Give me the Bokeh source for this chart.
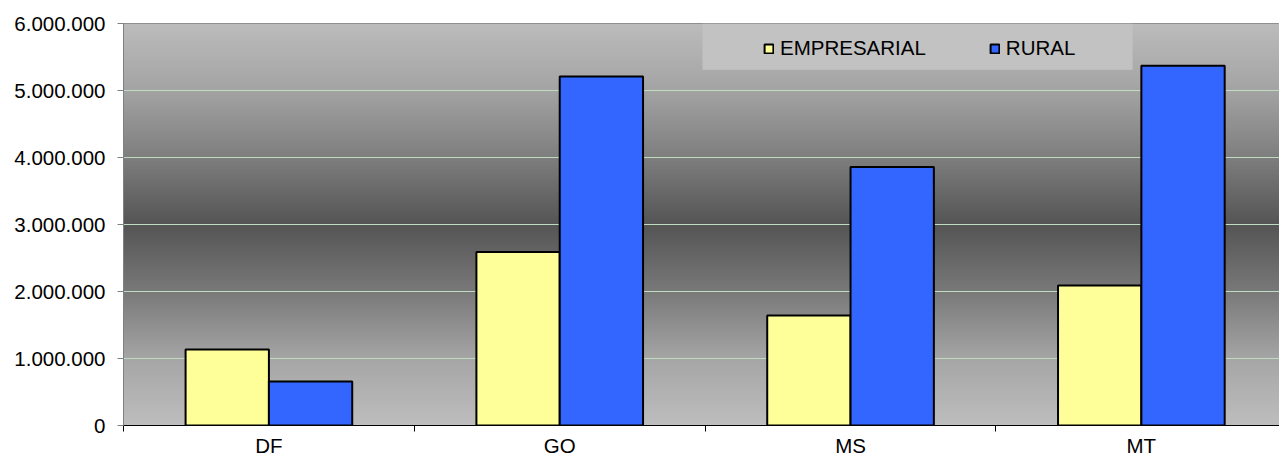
import numpy as np
from bokeh.plotting import figure
from bokeh.models import (Range1d, FixedTicker, CustomJSTickFormatter,
                          ColumnDataSource, BoxAnnotation)
from bokeh.transform import dodge
from bokeh.embed import file_html
from bokeh.resources import INLINE

# ---- data ----
categories = ["DF", "GO", "MS", "MT"]
empresarial = [1135000, 2590000, 1640000, 2090000]
rural = [655000, 5210000, 3860000, 5370000]
series_names = ["EMPRESARIAL", "RURAL"]
y_ticks = [0, 1000000, 2000000, 3000000, 4000000, 5000000, 6000000]

FONT = "Liberation Sans"
FS = "20.5px"
X_END = 3.975   # visible part of the 4-category axis (chart is cut at the right edge)
Y_MAX = 6000000

p = figure(width=1279, height=459, x_range=Range1d(0, X_END), y_range=Range1d(0, Y_MAX),
           output_backend="svg", toolbar_location=None,
           min_border_left=123, min_border_right=0, min_border_top=23, min_border_bottom=33)
p.border_fill_color = "white"
p.background_fill_color = "#c0c0c0"
p.outline_line_color = "#808080"
p.outline_line_width = 1

# ---- gradient background (silver -> dark gray -> silver) ----
N = 400
t = np.linspace(0, 1, N)
gray = np.interp(t, [0, 1/6, 1/3, 0.5, 2/3, 5/6, 1], [190, 166, 121, 85, 126, 164, 188]).astype(np.uint8)
img = np.empty((N, 1), dtype=np.uint32)
view = img.view(dtype=np.uint8).reshape((N, 1, 4))
view[:, 0, 0] = gray
view[:, 0, 1] = gray
view[:, 0, 2] = gray
view[:, 0, 3] = 255
p.image_rgba(image=[img], x=0, y=0, dw=X_END, dh=Y_MAX, level="image")

# ---- grid ----
p.xgrid.grid_line_color = None
p.ygrid.ticker = FixedTicker(ticks=y_ticks)
p.ygrid.grid_line_color = "#C0DCC0"
p.ygrid.grid_line_width = 1

# ---- legend background box ----
p.add_layout(BoxAnnotation(left=1.991, right=3.47, bottom=5310000, top=Y_MAX,
                           fill_color="#C2C2C2", fill_alpha=1.0, line_color=None,
                           level="underlay"))

# ---- bars ----
centers = list(np.arange(len(categories)) + 0.5)
src = ColumnDataSource(dict(x=centers, cat=categories, emp=empresarial, rur=rural))
BW = 0.2865
p.vbar(x=dodge("x", -BW / 2, range=p.x_range), top="emp", width=BW, source=src,
       fill_color="#FFFF99", line_color="black", line_width=2, legend_label=series_names[0])
p.vbar(x=dodge("x", BW / 2, range=p.x_range), top="rur", width=BW, source=src,
       fill_color="#3366FF", line_color="black", line_width=2, legend_label=series_names[1])

# ---- y axis ----
ya = p.yaxis[0]
ya.ticker = FixedTicker(ticks=y_ticks)
ya.formatter = CustomJSTickFormatter(
    code="return tick.toFixed(0).replace(/\\B(?=(\\d{3})+(?!\\d))/g, '.');")
ya.axis_line_color = "#808080"
ya.major_tick_line_color = "#808080"
ya.major_tick_out = 6
ya.major_tick_in = 0
ya.minor_tick_line_color = None
ya.major_label_standoff = 12
ya.major_label_text_font = FONT
ya.major_label_text_font_size = FS
ya.major_label_text_color = "black"

# ---- x axis: labels at category centres, ticks at category boundaries ----
xa = p.xaxis[0]
xa.ticker = FixedTicker(ticks=centers, minor_ticks=list(range(len(categories) + 1)))
xa.major_label_overrides = {c: cat for c, cat in zip(centers, categories)}
xa.axis_line_color = "black"
xa.major_tick_line_color = None
xa.major_tick_out = 6
xa.major_tick_in = 0
xa.minor_tick_line_color = "black"
xa.minor_tick_out = 6
xa.minor_tick_in = 0
xa.major_label_standoff = 2
xa.major_label_text_font = FONT
xa.major_label_text_font_size = FS
xa.major_label_text_color = "black"

# ---- legend ----
lg = p.legend[0]
lg.orientation = "horizontal"
lg.location = (640, 365)
lg.padding = 4
lg.spacing = 63
lg.margin = 0
lg.glyph_width = 11
lg.glyph_height = 11
lg.label_standoff = 6
lg.label_text_font = FONT
lg.label_text_font_size = FS
lg.label_text_color = "black"
lg.background_fill_alpha = 0
lg.border_line_color = None

open("out.html", "w").write(file_html(p, INLINE))
